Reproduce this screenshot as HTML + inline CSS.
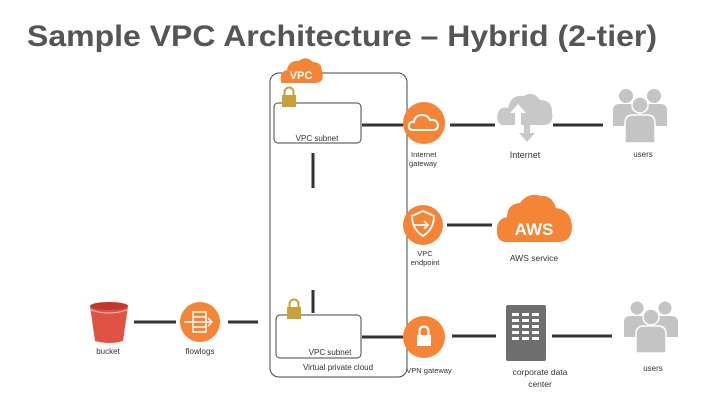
<!DOCTYPE html>
<html><head><meta charset="utf-8"><style>
html,body{margin:0;padding:0;background:#fff;}
svg{display:block;font-family:"Liberation Sans",sans-serif;}
</style></head><body>
<svg width="720" height="405" viewBox="0 0 720 405" xmlns="http://www.w3.org/2000/svg">
<text x="27" y="46" font-size="30" font-weight="bold" fill="#555" textLength="630" lengthAdjust="spacingAndGlyphs">Sample VPC Architecture – Hybrid (2-tier)</text>

<!-- VPC box -->
<rect x="270" y="73" width="137" height="304" rx="9" fill="none" stroke="#444" stroke-width="1"/>
<!-- VPC cloud -->
<path d="M281 82 Q279 72 287 70 Q289 60 299 61 Q306 55 313 62 Q322 62 322 72 Q325 82 316 83 L285 83 Q280 83 281 82Z" fill="#f58536"/>
<text x="301" y="79" font-size="11" font-weight="bold" fill="#fff" text-anchor="middle">VPC</text>

<!-- subnet 1 -->
<rect x="274" y="103" width="87" height="40" rx="4" fill="#fff" stroke="#444" stroke-width="1"/>
<rect x="282" y="95" width="14" height="12" fill="#c9a13a"/>
<path d="M284.5 95 v-3 a4.5 4.5 0 0 1 9 0 v3" fill="none" stroke="#c9a13a" stroke-width="2"/>
<text x="317" y="141" font-size="8" fill="#333" text-anchor="middle">VPC subnet</text>

<!-- subnet 2 -->
<rect x="276" y="315" width="85" height="43" rx="4" fill="#fff" stroke="#444" stroke-width="1"/>
<rect x="287" y="307" width="14" height="12" fill="#c9a13a"/>
<path d="M289.5 307 v-3 a4.5 4.5 0 0 1 9 0 v3" fill="none" stroke="#c9a13a" stroke-width="2"/>
<text x="330" y="355" font-size="8" fill="#333" text-anchor="middle">VPC subnet</text>
<text x="338" y="370" font-size="8" fill="#333" text-anchor="middle">Virtual private cloud</text>

<!-- connectors -->
<g stroke="#333" stroke-width="3">
<line x1="313" y1="153" x2="313" y2="188"/>
<line x1="313" y1="290" x2="313" y2="313"/>
<line x1="362" y1="125" x2="404" y2="125"/>
<line x1="450" y1="125" x2="495" y2="125"/>
<line x1="553" y1="125" x2="603" y2="125"/>
<line x1="447" y1="225" x2="492" y2="225"/>
<line x1="134" y1="322" x2="176" y2="322"/>
<line x1="228" y1="322" x2="258" y2="322"/>
<line x1="362" y1="337" x2="403" y2="337"/>
<line x1="452" y1="336" x2="496" y2="336"/>
<line x1="552" y1="336" x2="612" y2="336"/>
</g>

<!-- internet gateway -->
<circle cx="424" cy="123" r="21" fill="#f58536"/>
<path d="M413 130 Q408 130 409 125 Q410 121 414 122 Q415 115 422 115 Q428 115 430 120 Q437 119 438 125 Q438 130 433 130Z" fill="none" stroke="#fff" stroke-width="2"/>
<text x="411" y="157" font-size="7.5" fill="#333">Internet</text>
<text x="409" y="166" font-size="7.5" fill="#333">gateway</text>

<!-- internet cloud -->
<path d="M502 125 Q495 122 498 113 Q500 106 508 108 Q511 94 524 96 Q533 90 540 100 Q552 100 552 112 Q554 124 545 125Z" fill="#c8c8c8"/>
<path d="M515 125 v-12 h-5 l8 -9 l8 9 h-5 v12z" fill="#fff"/>
<path d="M524 125 v8 h-5 l8 9 l8 -9 h-5 v-8z" fill="#c8c8c8"/>
<text x="525" y="158" font-size="9" fill="#333" text-anchor="middle">Internet</text>

<!-- users 1 -->
<g fill="#c4c4c4">
<circle cx="626" cy="96" r="7"/><circle cx="654" cy="96" r="7"/>
<path d="M613 126 v-16 q0 -6 7 -6 h12 q7 0 7 6 v16z"/>
<path d="M641 126 v-16 q0 -6 7 -6 h12 q7 0 7 6 v16z"/>
<circle cx="640" cy="105" r="8" stroke="#fff" stroke-width="1.5"/>
<path d="M625 143 v-20 q0 -8 8 -8 h14 q8 0 8 8 v20z" stroke="#fff" stroke-width="1.5"/>
</g>
<text x="643" y="157" font-size="8" fill="#333" text-anchor="middle">users</text>

<!-- vpc endpoint -->
<circle cx="423" cy="225" r="20" fill="#f58536"/>
<path d="M423 211 l11 5 q0 13 -11 20 q-11 -7 -11 -20z" fill="none" stroke="#fff" stroke-width="1.8"/>
<path d="M414 225 h14 m-4 -4 l4 4 l-4 4" fill="none" stroke="#fff" stroke-width="1.8"/>
<text x="425" y="256" font-size="7.5" fill="#333" text-anchor="middle">VPC</text>
<text x="425" y="265" font-size="7.5" fill="#333" text-anchor="middle">endpoint</text>

<!-- AWS cloud -->
<path d="M505 242 Q496 241 497 229 Q497 219 507 217 Q507 204 520 203 Q528 192 541 196 Q552 195 556 208 Q571 210 572 226 Q572 241 560 242Z" fill="#f58536"/>
<text x="534" y="235" font-size="17" font-weight="bold" fill="#fff" text-anchor="middle">AWS</text>
<text x="534" y="261" font-size="8.5" fill="#333" text-anchor="middle">AWS service</text>

<!-- bucket -->
<path d="M90 306 L128 306 L123 341 Q109 345 95 341Z" fill="#e05243"/>
<ellipse cx="109" cy="306" rx="19" ry="4" fill="#c0392b"/>
<path d="M91 310 Q109 316 127 310" fill="none" stroke="#f7c0b8" stroke-width="1"/>
<text x="108" y="354" font-size="8" fill="#333" text-anchor="middle">bucket</text>

<!-- flowlogs -->
<circle cx="200" cy="322" r="20" fill="#f58536"/>
<rect x="193" y="312" width="13" height="20" fill="none" stroke="#fff" stroke-width="1.5"/>
<path d="M193 317 h13 M193 322 h13 M193 327 h13 M184 322 h28 m-4 -4 l4 4 l-4 4" fill="none" stroke="#fff" stroke-width="1.5"/>
<text x="200" y="354" font-size="8" fill="#333" text-anchor="middle">flowlogs</text>

<!-- VPN gateway -->
<circle cx="424" cy="337" r="21" fill="#f58536"/>
<rect x="417" y="335" width="14" height="11" fill="#fff"/>
<path d="M419.5 335 v-4 a4.5 4.5 0 0 1 9 0 v4" fill="none" stroke="#fff" stroke-width="2.2"/>
<text x="429" y="373" font-size="7.5" fill="#333" text-anchor="middle">VPN gateway</text>

<!-- data center -->
<rect x="506" y="305" width="40" height="56" rx="2" fill="#6e6e6e"/>
<g fill="#fff">
<rect x="512" y="313" width="7" height="3"/><rect x="522" y="313" width="7" height="3"/><rect x="532" y="313" width="7" height="3"/>
<rect x="512" y="319" width="7" height="3"/><rect x="522" y="319" width="7" height="3"/><rect x="532" y="319" width="7" height="3"/>
<rect x="512" y="325" width="7" height="3"/><rect x="522" y="325" width="7" height="3"/><rect x="532" y="325" width="7" height="3"/>
<rect x="512" y="331" width="7" height="3"/><rect x="522" y="331" width="7" height="3"/><rect x="532" y="331" width="7" height="3"/>
<rect x="512" y="337" width="7" height="3"/><rect x="522" y="337" width="7" height="3"/><rect x="532" y="337" width="7" height="3"/>
</g>
<text x="540" y="375" font-size="8.5" fill="#333" text-anchor="middle">corporate data</text>
<text x="540" y="387" font-size="8.5" fill="#333" text-anchor="middle">center</text>

<!-- users 2 -->
<g fill="#c4c4c4">
<circle cx="637" cy="308" r="6.5"/><circle cx="665" cy="308" r="6.5"/>
<path d="M624 337 v-15 q0 -6 7 -6 h12 q7 0 7 6 v15z"/>
<path d="M652 337 v-15 q0 -6 7 -6 h12 q7 0 7 6 v15z"/>
<circle cx="651" cy="317" r="8" stroke="#fff" stroke-width="1.5"/>
<path d="M636 353 v-19 q0 -8 8 -8 h14 q8 0 8 8 v19z" stroke="#fff" stroke-width="1.5"/>
</g>
<text x="653" y="371" font-size="8" fill="#333" text-anchor="middle">users</text>
</svg>
</body></html>
